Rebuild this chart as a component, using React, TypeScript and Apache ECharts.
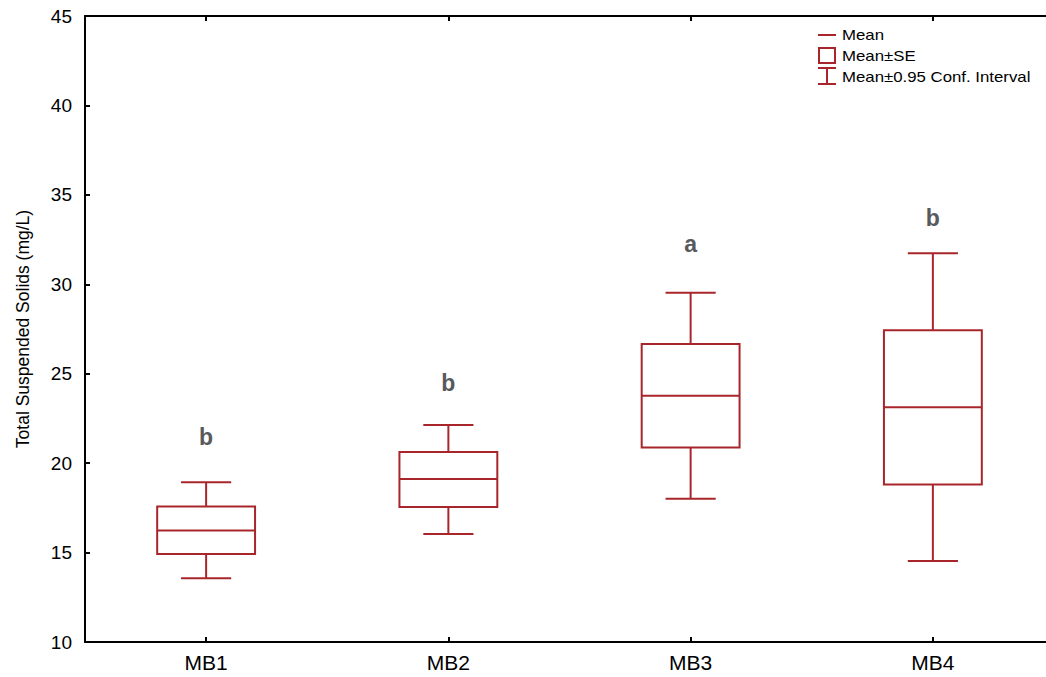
import React, { useEffect, useRef } from "react";
import * as echarts from "echarts";

const categories = ["MB1", "MB2", "MB3", "MB4"];
// Mean-0.95CI, Mean-SE, Mean, Mean+SE, Mean+0.95CI
const ciLow = [13.56, 16.04, 18.01, 14.53];
const seLow = [14.92, 17.55, 20.87, 18.8];
const means = [16.24, 19.11, 23.77, 23.12];
const seHigh = [17.57, 20.62, 26.66, 27.43];
const ciHigh = [18.93, 22.13, 29.53, 31.73];
const letters = ["b", "b", "a", "b"];
const letterY = [21.48, 24.48, 32.23, 33.69];
const yTicks = { min: 10, max: 45, interval: 5 };

const RED = "#a8262b";
const FONT = "'Liberation Sans', Arial, sans-serif";

export default function App() {
  const ref = useRef<HTMLDivElement>(null);
  useEffect(() => {
    const chart = echarts.init(ref.current!, null, { renderer: "svg" });
    const boxData = categories.map((_, i) => [i, ciLow[i], seLow[i], means[i], seHigh[i], ciHigh[i]]);
    const letterData = categories.map((_, i) => [i, letterY[i], letters[i]]);
    const axisLine = { show: true, lineStyle: { color: "#000", width: 2 } };
    const tick = { show: true, inside: true, alignWithLabel: true, length: 5, lineStyle: { color: "#000", width: 2 } };
    const legendText = (y: number, text: string) => ({
      type: "text",
      x: 842,
      y,
      scaleX: 1.2,
      style: { text, fill: "#000", font: `14px ${FONT}`, verticalAlign: "middle" },
    });
    chart.setOption({
      animation: false,
      backgroundColor: "#fff",
      grid: { left: 85, right: 0, top: 16, bottom: 35, containLabel: false },
      xAxis: [
        {
          type: "category",
          data: categories,
          boundaryGap: true,
          axisLine,
          axisTick: tick,
          axisLabel: { color: "#000", fontSize: 21, fontFamily: FONT, margin: 10 },
          splitLine: { show: false },
        },
        {
          type: "category",
          data: categories,
          position: "top",
          boundaryGap: true,
          axisLine,
          axisTick: tick,
          axisLabel: { show: false },
          splitLine: { show: false },
        },
      ],
      yAxis: {
        type: "value",
        min: yTicks.min,
        max: yTicks.max,
        interval: yTicks.interval,
        name: "Total Suspended Solids (mg/L)",
        nameLocation: "middle",
        nameGap: 53,
        nameTextStyle: { color: "#000", fontSize: 17.5, fontFamily: FONT },
        axisLine,
        axisTick: { show: true, inside: true, length: 5, lineStyle: { color: "#000", width: 2 } },
        axisLabel: { color: "#000", fontSize: 19, fontFamily: FONT, margin: 13 },
        splitLine: { show: false },
      },
      series: [
        {
          type: "custom",
          data: boxData,
          encode: { x: 0, y: [1, 2, 3, 4, 5] },
          renderItem: (params: any, api: any) => {
            const x = api.value(0);
            const band = api.size([1, 0])[0];
            const bw = band * 0.404;
            const cw = band * 0.207;
            const pLo = api.coord([x, api.value(1)]);
            const pSL = api.coord([x, api.value(2)]);
            const pM = api.coord([x, api.value(3)]);
            const pSH = api.coord([x, api.value(4)]);
            const pHi = api.coord([x, api.value(5)]);
            const cx = pM[0];
            const ls = { stroke: RED, lineWidth: 2, fill: null };
            return {
              type: "group",
              children: [
                { type: "line", shape: { x1: cx, y1: pHi[1], x2: cx, y2: pSH[1] }, style: ls },
                { type: "line", shape: { x1: cx, y1: pSL[1], x2: cx, y2: pLo[1] }, style: ls },
                { type: "line", shape: { x1: cx - cw / 2, y1: pHi[1], x2: cx + cw / 2, y2: pHi[1] }, style: ls },
                { type: "line", shape: { x1: cx - cw / 2, y1: pLo[1], x2: cx + cw / 2, y2: pLo[1] }, style: ls },
                { type: "rect", shape: { x: cx - bw / 2, y: pSH[1], width: bw, height: pSL[1] - pSH[1] }, style: { stroke: RED, lineWidth: 2, fill: "none" } },
                { type: "line", shape: { x1: cx - bw / 2, y1: pM[1], x2: cx + bw / 2, y2: pM[1] }, style: ls },
              ],
            };
          },
        },
        {
          type: "custom",
          data: letterData,
          encode: { x: 0, y: 1 },
          renderItem: (params: any, api: any) => {
            const p = api.coord([api.value(0), api.value(1)]);
            return {
              type: "text",
              x: p[0],
              y: p[1],
              style: {
                text: letters[params.dataIndex],
                fill: "#58595b",
                font: `bold 23px ${FONT}`,
                align: "center",
                verticalAlign: "middle",
              },
            };
          },
        },
      ],
      graphic: [
        { type: "line", shape: { x1: 818, y1: 35, x2: 836, y2: 35 }, style: { stroke: RED, lineWidth: 2 } },
        { type: "rect", shape: { x: 819, y: 48, width: 16, height: 15 }, style: { stroke: RED, lineWidth: 2, fill: "none" } },
        { type: "line", shape: { x1: 818, y1: 68, x2: 836, y2: 68 }, style: { stroke: RED, lineWidth: 2 } },
        { type: "line", shape: { x1: 818, y1: 84, x2: 836, y2: 84 }, style: { stroke: RED, lineWidth: 2 } },
        { type: "line", shape: { x1: 827, y1: 68, x2: 827, y2: 84 }, style: { stroke: RED, lineWidth: 2 } },
        legendText(35, "Mean"),
        legendText(56, "Mean±SE"),
        legendText(77, "Mean±0.95 Conf. Interval"),
      ],
    });
    return () => chart.dispose();
  }, []);
  return (
    <div style={{ position: "fixed", left: 0, top: 0, width: 1046, height: 677, overflow: "hidden", background: "#fff" }}>
      <div ref={ref} style={{ width: 1054, height: 677 }} />
    </div>
  );
}
